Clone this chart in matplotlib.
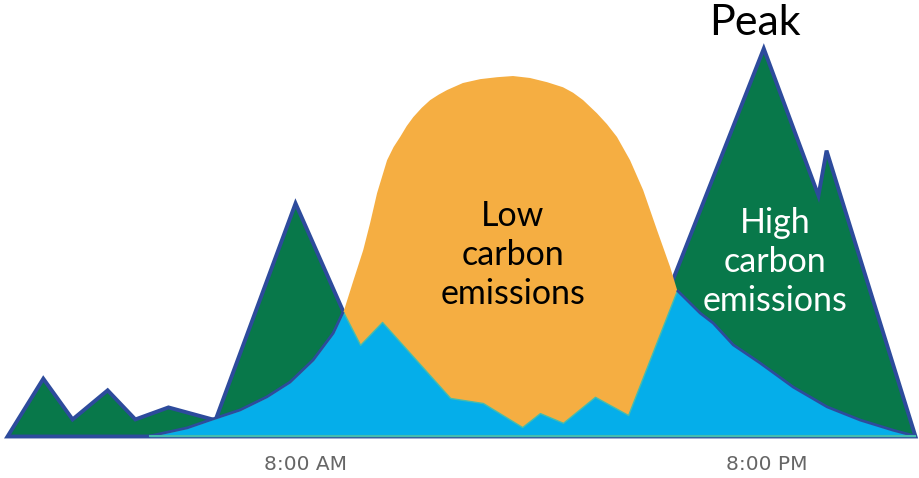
import numpy as np
import matplotlib
matplotlib.use("Agg")
import matplotlib.pyplot as plt

# hours of the day vs. relative load (peak = 100)

# total demand (green, dark outline)
demand_hr = [0.26, 1.19, 1.95, 2.86, 3.58, 4.44, 5.66, 7.74, 8.99, 17.43, 19.90, 21.32, 21.53, 23.84]
demand = [0, 14.9, 4.4, 11.9, 4.4, 7.5, 4.2, 60.1, 32.0, 37.6, 100, 62.1, 73.7, 0]

# solar output (orange bell)
solar_hr = [8.86, 8.99, 9.25, 9.51, 9.69, 9.87, 10.13, 10.30, 10.47, 10.64, 10.81, 11.03,
            11.25, 11.47, 11.69, 12.10, 12.55, 12.99, 13.40, 13.84, 14.29, 14.70, 14.96,
            15.22, 15.58, 15.84, 16.10, 16.44, 16.78, 17.14, 17.48, 17.74, 18.0, 18.26]
solar = [0, 31.7, 39.9, 47.9, 54.9, 62.6, 71.1, 74.5, 77.1, 79.9, 82.2, 84.6,
         86.6, 88.0, 89.2, 91.0, 92.0, 92.5, 92.8, 92.3, 91.2, 89.9, 88.5,
         86.6, 83.2, 80.4, 77.1, 71.1, 63.4, 53.1, 43.6, 35.1, 24.7, 0]

# net load (blue)
net_hr = [3.97, 4.94, 5.61, 6.31, 7.01, 7.61, 8.21, 8.73, 8.99,
          9.43, 10.0, 11.77, 12.62, 13.64, 14.1, 14.70, 15.53, 16.39,
          17.66, 18.26, 18.6, 19.12, 19.82, 20.68, 21.56, 22.42, 23.27, 23.84]
net = [0, 2.1, 4.4, 6.7, 10.1, 13.9, 19.6, 26.5, 32.0,
       23.5, 29.4, 9.8, 8.5, 2.3, 5.9, 3.4, 10.1, 5.4,
       37.6, 31.7, 29.1, 23.5, 18.8, 12.6, 7.5, 4.1, 1.5, 0]

tick_hr = [8, 20]
tick_labels = ["8:00 AM", "8:00 PM"]

green = "#08784a"
orange = "#f5ae42"
blue = "#05aeea"
navy = "#2d4b9c"
teal = "#45bcae"

fig = plt.figure(figsize=(9.2, 4.78), dpi=100)
ax = fig.add_axes([0, 42 / 478, 1, 436 / 478])

ax.fill_between(demand_hr, demand, 0, facecolor=green, edgecolor=navy, lw=2.8,
                joinstyle="miter", zorder=1, clip_on=False)
ax.fill_between(solar_hr, solar, 0, facecolor=orange, edgecolor="none", zorder=2)
ax.fill_between(net_hr, net, 0, facecolor=blue, edgecolor=teal, lw=1.0, zorder=3,
                clip_on=False)

# dark edge where the net load meets the demand area
nh = np.array(net_hr)
nv = np.array(net)
left = nh <= 8.99
right = nh >= 17.66
ax.plot(nh[left], nv[left], color=navy, lw=2.0, zorder=4, solid_capstyle="butt")
ax.plot(nh[right], nv[right], color=navy, lw=2.0, zorder=4, solid_capstyle="butt")
ax.plot([3.97, 23.84], [0, 0], color=teal, lw=1.5, zorder=4, clip_on=False)

ax.set_xlim(0.078, 23.97)
ax.set_ylim(0, 112.4)

ax.text(19.69, 106.5, "Peak", ha="center", va="center", fontsize=31,
        family="Lato", color="black")
ax.text(13.4, 46.6, "Low\ncarbon\nemissions", ha="center", va="center",
        fontsize=24.5, family="Lato", color="black", linespacing=1.27)
ax.text(20.2, 44.8, "High\ncarbon\nemissions", ha="center", va="center",
        fontsize=24.5, family="Lato", color="white", linespacing=1.27)

ax.set_xticks(tick_hr)
ax.set_xticklabels(tick_labels, family="DejaVu Sans", fontsize=14.5, color="#666666")
ax.tick_params(axis="x", length=0, pad=14)
ax.set_yticks([])
for s in ax.spines.values():
    s.set_visible(False)
ax.patch.set_alpha(0)

fig.savefig("out.png", dpi=100)
